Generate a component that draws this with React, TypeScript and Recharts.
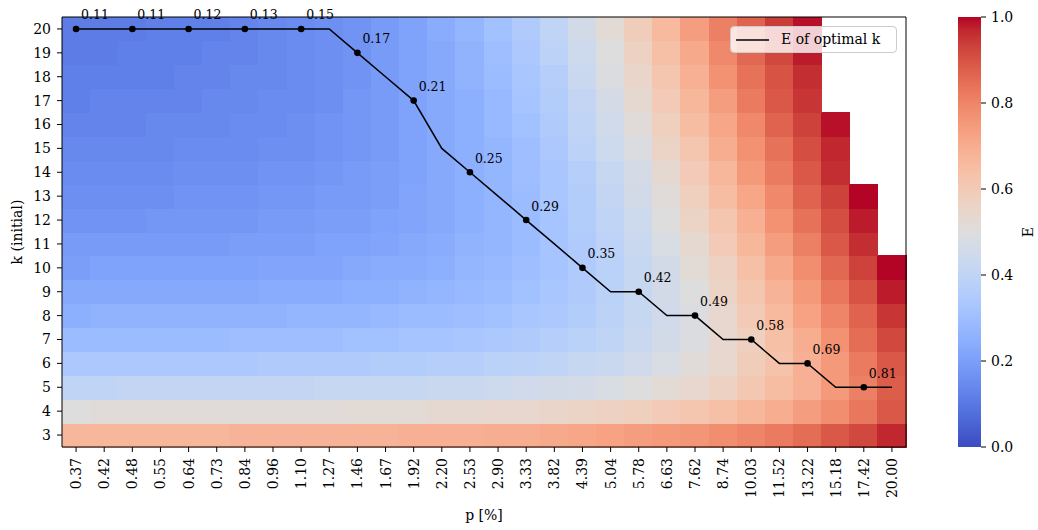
import {
  Bar,
  ComposedChart,
  Label,
  LabelList,
  Line,
  ReferenceArea,
  XAxis,
  YAxis,
} from "recharts";

const FONT = "'DejaVu Serif', serif";

// x categories: p [%]
const P_LABELS = [
  "0.37", "0.42", "0.48", "0.55", "0.64", "0.73", "0.84", "0.96", "1.10", "1.27",
  "1.46", "1.67", "1.92", "2.20", "2.53", "2.90", "3.33", "3.82", "4.39", "5.04",
  "5.78", "6.63", "7.62", "8.74", "10.03", "11.52", "13.22", "15.18", "17.42", "20.00",
];

// y categories: initial k
const K_VALUES = [3, 4, 5, 6, 7, 8, 9, 10, 11, 12, 13, 14, 15, 16, 17, 18, 19, 20];

// E for each k, one value per p column (null = cell left blank)
const E_K20 = [0.11, 0.11, 0.11, 0.12, 0.12, 0.12, 0.13, 0.14, 0.15, 0.16, 0.17, 0.19, 0.21, 0.24, 0.27, 0.31, 0.35, 0.4, 0.46, 0.52, 0.59, 0.66, 0.74, 0.81, 0.87, 0.94, 0.99, null, null, null];
const E_K19 = [0.11, 0.11, 0.12, 0.12, 0.12, 0.13, 0.13, 0.14, 0.15, 0.16, 0.17, 0.19, 0.21, 0.23, 0.26, 0.3, 0.34, 0.39, 0.44, 0.5, 0.57, 0.64, 0.71, 0.79, 0.86, 0.92, 0.98, null, null, null];
const E_K18 = [0.12, 0.12, 0.12, 0.12, 0.13, 0.13, 0.14, 0.14, 0.15, 0.16, 0.17, 0.19, 0.21, 0.23, 0.26, 0.29, 0.33, 0.37, 0.43, 0.49, 0.55, 0.62, 0.69, 0.77, 0.84, 0.9, 0.96, null, null, null];
const E_K17 = [0.12, 0.13, 0.13, 0.13, 0.13, 0.14, 0.14, 0.15, 0.15, 0.16, 0.18, 0.19, 0.21, 0.23, 0.25, 0.28, 0.32, 0.36, 0.41, 0.47, 0.53, 0.6, 0.67, 0.74, 0.82, 0.89, 0.95, null, null, null];
const E_K16 = [0.13, 0.13, 0.13, 0.14, 0.14, 0.14, 0.15, 0.15, 0.16, 0.17, 0.18, 0.19, 0.21, 0.23, 0.25, 0.28, 0.31, 0.35, 0.4, 0.45, 0.51, 0.58, 0.65, 0.72, 0.79, 0.87, 0.93, 0.99, null, null];
const E_K15 = [0.14, 0.14, 0.14, 0.14, 0.15, 0.15, 0.15, 0.16, 0.16, 0.17, 0.18, 0.19, 0.21, 0.23, 0.25, 0.27, 0.3, 0.34, 0.39, 0.44, 0.49, 0.56, 0.62, 0.7, 0.77, 0.84, 0.91, 0.97, null, null];
const E_K14 = [0.15, 0.15, 0.15, 0.15, 0.16, 0.16, 0.16, 0.17, 0.17, 0.18, 0.19, 0.2, 0.21, 0.23, 0.25, 0.27, 0.3, 0.33, 0.37, 0.42, 0.47, 0.53, 0.6, 0.67, 0.75, 0.82, 0.89, 0.96, null, null];
const E_K13 = [0.16, 0.16, 0.16, 0.16, 0.17, 0.17, 0.17, 0.18, 0.18, 0.19, 0.19, 0.2, 0.22, 0.23, 0.25, 0.27, 0.29, 0.33, 0.36, 0.41, 0.46, 0.51, 0.58, 0.65, 0.72, 0.79, 0.87, 0.93, 1.0, null];
const E_K12 = [0.17, 0.17, 0.17, 0.18, 0.18, 0.18, 0.18, 0.19, 0.19, 0.2, 0.2, 0.21, 0.22, 0.23, 0.25, 0.27, 0.29, 0.32, 0.36, 0.4, 0.44, 0.5, 0.56, 0.62, 0.69, 0.77, 0.84, 0.91, 0.98, null];
const E_K11 = [0.19, 0.19, 0.19, 0.19, 0.19, 0.19, 0.2, 0.2, 0.2, 0.21, 0.21, 0.22, 0.23, 0.24, 0.26, 0.27, 0.29, 0.32, 0.35, 0.39, 0.43, 0.48, 0.53, 0.6, 0.67, 0.74, 0.81, 0.89, 0.96, null];
const E_K10 = [0.2, 0.21, 0.21, 0.21, 0.21, 0.21, 0.21, 0.22, 0.22, 0.22, 0.23, 0.24, 0.24, 0.25, 0.27, 0.28, 0.3, 0.32, 0.35, 0.38, 0.42, 0.46, 0.52, 0.57, 0.64, 0.71, 0.78, 0.86, 0.93, 1.0];
const E_K9 = [0.23, 0.23, 0.23, 0.23, 0.23, 0.23, 0.23, 0.24, 0.24, 0.24, 0.25, 0.25, 0.26, 0.27, 0.28, 0.29, 0.31, 0.33, 0.35, 0.38, 0.42, 0.46, 0.5, 0.56, 0.62, 0.68, 0.75, 0.83, 0.9, 0.98];
const E_K8 = [0.25, 0.26, 0.26, 0.26, 0.26, 0.26, 0.26, 0.26, 0.27, 0.27, 0.27, 0.28, 0.29, 0.29, 0.3, 0.31, 0.33, 0.34, 0.36, 0.39, 0.42, 0.45, 0.49, 0.54, 0.6, 0.66, 0.73, 0.8, 0.87, 0.95];
const E_K7 = [0.29, 0.29, 0.29, 0.29, 0.29, 0.29, 0.3, 0.3, 0.3, 0.3, 0.31, 0.31, 0.32, 0.32, 0.33, 0.34, 0.35, 0.37, 0.38, 0.4, 0.43, 0.46, 0.49, 0.54, 0.58, 0.64, 0.7, 0.77, 0.85, 0.92];
const E_K6 = [0.34, 0.34, 0.34, 0.34, 0.34, 0.34, 0.34, 0.35, 0.35, 0.35, 0.35, 0.36, 0.36, 0.37, 0.37, 0.38, 0.39, 0.4, 0.42, 0.43, 0.45, 0.48, 0.51, 0.54, 0.59, 0.63, 0.69, 0.75, 0.82, 0.89];
const E_K5 = [0.4, 0.4, 0.41, 0.41, 0.41, 0.41, 0.41, 0.41, 0.41, 0.42, 0.42, 0.42, 0.42, 0.43, 0.43, 0.44, 0.45, 0.46, 0.47, 0.48, 0.5, 0.52, 0.54, 0.57, 0.61, 0.65, 0.69, 0.75, 0.81, 0.88];
const E_K4 = [0.5, 0.51, 0.51, 0.51, 0.51, 0.51, 0.51, 0.51, 0.51, 0.51, 0.52, 0.52, 0.52, 0.53, 0.53, 0.54, 0.54, 0.55, 0.56, 0.57, 0.58, 0.6, 0.62, 0.64, 0.67, 0.7, 0.74, 0.78, 0.83, 0.89];
const E_K3 = [0.67, 0.67, 0.67, 0.67, 0.67, 0.67, 0.68, 0.68, 0.68, 0.68, 0.68, 0.68, 0.69, 0.69, 0.69, 0.7, 0.7, 0.71, 0.72, 0.73, 0.74, 0.75, 0.76, 0.78, 0.8, 0.82, 0.85, 0.89, 0.92, 0.97];

const E_BY_K: Record<number, (number | null)[]> = {
  3: E_K3, 4: E_K4, 5: E_K5, 6: E_K6, 7: E_K7, 8: E_K8, 9: E_K9, 10: E_K10, 11: E_K11,
  12: E_K12, 13: E_K13, 14: E_K14, 15: E_K15, 16: E_K16, 17: E_K17, 18: E_K18, 19: E_K19, 20: E_K20,
};

// optimal k per p column, and the annotated E values (every other column)
const OPT_K = [20, 20, 20, 20, 20, 20, 20, 20, 20, 20, 19, 18, 17, 15, 14, 13, 12, 11, 10, 9, 9, 8, 8, 7, 7, 6, 6, 5, 5, 5];
const OPT_E = [0.11, null, 0.11, null, 0.12, null, 0.13, null, 0.15, null, 0.17, null, 0.21, null, 0.25, null, 0.29, null, 0.35, null, 0.42, null, 0.49, null, 0.58, null, 0.69, null, 0.81, null];

const COLORBAR_TICKS = [0, 0.2, 0.4, 0.6, 0.8, 1];

// matplotlib "coolwarm" control points
const COOLWARM = [
  [59, 76, 192], [68, 90, 204], [77, 104, 215], [87, 117, 225], [98, 130, 234], [108, 142, 241],
  [119, 154, 247], [130, 165, 251], [141, 176, 254], [152, 185, 255], [163, 194, 255], [174, 201, 253],
  [184, 208, 249], [194, 213, 244], [204, 217, 238], [213, 219, 230], [221, 221, 221], [229, 216, 209],
  [236, 211, 197], [241, 204, 185], [245, 196, 173], [247, 187, 160], [247, 177, 148], [247, 166, 135],
  [244, 154, 123], [241, 141, 111], [236, 127, 99], [229, 112, 88], [222, 96, 77], [213, 80, 66],
  [203, 62, 56], [192, 40, 47], [180, 4, 38],
];

function coolwarm(v: number): string {
  const t = Math.min(1, Math.max(0, v)) * (COOLWARM.length - 1);
  const i = Math.min(COOLWARM.length - 2, Math.floor(t));
  const f = t - i;
  const a = COOLWARM[i];
  const b = COOLWARM[i + 1];
  const c = a.map((ch, j) => Math.round(ch + (b[j] - ch) * f));
  return `rgb(${c[0]},${c[1]},${c[2]})`;
}

function PTick(props: any) {
  const { x, y, payload } = props;
  const ty = y + 4;
  return (
    <text
      x={x}
      y={ty}
      transform={`rotate(-90, ${x}, ${ty})`}
      textAnchor="end"
      dominantBaseline="central"
      fontSize={14}
      fontFamily={FONT}
      fill="#000"
    >
      {P_LABELS[payload.value]}
    </text>
  );
}

function renderDot(props: any) {
  const { cx, cy, payload, index } = props;
  if (payload.e == null) return <g key={`dot-${index}`} />;
  return <circle key={`dot-${index}`} cx={cx} cy={cy} r={3.3} fill="#000" />;
}

function renderOptLabel(props: any) {
  const { x, y, value, index } = props;
  if (value == null) return null;
  return (
    <text
      key={`lab-${index}`}
      x={Number(x) + 5}
      y={Number(y) - 14}
      dominantBaseline="central"
      fontSize={12.5}
      fontFamily={FONT}
      fill="#000"
    >
      {Number(value).toFixed(2)}
    </text>
  );
}

function rotatedAxisTitle(text: string, dx: (vb: any) => number) {
  return (p: any) => {
    const vb = p.viewBox;
    const cx = dx(vb);
    const cy = vb.y + vb.height / 2;
    return (
      <text
        x={cx}
        y={cy}
        transform={`rotate(-90, ${cx}, ${cy})`}
        textAnchor="middle"
        dominantBaseline="central"
        fontSize={14}
        fontFamily={FONT}
        fill="#000"
      >
        {text}
      </text>
    );
  };
}

export default function App() {
  const lineData = OPT_K.map((k, i) => ({ i, k, e: OPT_E[i] }));
  const colorbarData = [{ name: "E", v: 1 }];

  const cells: React.ReactNode[] = [];
  K_VALUES.forEach((k) => {
    E_BY_K[k].forEach((v, i) => {
      if (v == null) return;
      const color = coolwarm(v);
      cells.push(
        <ReferenceArea
          key={`c-${k}-${i}`}
          x1={i - 0.5}
          x2={i + 0.5}
          y1={k - 0.5}
          y2={k + 0.5}
          fill={color}
          fillOpacity={1}
          stroke={color}
          strokeWidth={1}
          shapeRendering="crispEdges"
          ifOverflow="visible"
        />,
      );
    });
  });

  const tickStyle = { fontSize: 14, fontFamily: FONT, fill: "#000" };

  return (
    <div
      style={{
        position: "absolute",
        left: 0,
        top: 0,
        width: 1038,
        height: 530,
        background: "#fff",
        fontFamily: FONT,
      }}
    >
      <div style={{ position: "absolute", left: 0, top: 0 }}>
        <ComposedChart
          width={940}
          height={530}
          data={lineData}
          margin={{ top: 17, right: 34, bottom: 0, left: 0 }}
        >
          <XAxis
            type="number"
            dataKey="i"
            domain={[-0.5, 29.5]}
            ticks={P_LABELS.map((_, i) => i)}
            interval={0}
            height={83}
            tickSize={5}
            tickMargin={2}
            axisLine={false}
            tickLine={{ stroke: "#000" }}
            tick={<PTick />}
            allowDataOverflow
          >
            <Label
              value="p [%]"
              position="insideBottom"
              offset={10}
              style={{ fontSize: 14, fontFamily: FONT, fill: "#000" }}
            />
          </XAxis>
          <YAxis
            type="number"
            domain={[2.5, 20.5]}
            ticks={K_VALUES}
            interval={0}
            width={62}
            tickSize={5}
            tickMargin={6}
            axisLine={false}
            tickLine={{ stroke: "#000" }}
            tick={tickStyle}
            allowDataOverflow
          >
            <Label content={rotatedAxisTitle("k (initial)", (vb) => vb.x + 17)} />
          </YAxis>
          {cells}
          <ReferenceArea
            x1={-0.5}
            x2={29.5}
            y1={2.5}
            y2={20.5}
            fill="none"
            fillOpacity={0}
            stroke="#000"
            strokeWidth={1}
            ifOverflow="visible"
          />
          <Line
            type="linear"
            dataKey="k"
            stroke="#000"
            strokeWidth={1.5}
            dot={renderDot}
            activeDot={false}
            isAnimationActive={false}
          >
            <LabelList dataKey="e" content={renderOptLabel} />
          </Line>
        </ComposedChart>
      </div>

      {/* legend */}
      <div
        style={{
          position: "absolute",
          left: 730,
          top: 26,
          width: 167,
          height: 27,
          background: "rgba(255,255,255,0.8)",
          border: "1px solid #cccccc",
          borderRadius: 4,
          boxSizing: "border-box",
        }}
      >
        <svg width={40} height={27} style={{ position: "absolute", left: 4, top: 0 }}>
          <line x1={1} y1={13} x2={34} y2={13} stroke="#000" strokeWidth={1.5} />
        </svg>
        <span
          style={{
            position: "absolute",
            left: 50,
            top: 4,
            fontSize: 14,
            lineHeight: "17px",
            fontFamily: FONT,
            color: "#000",
            whiteSpace: "nowrap",
          }}
        >
          E of optimal k
        </span>
      </div>

      {/* colorbar */}
      <div style={{ position: "absolute", left: 920, top: 0 }}>
        <ComposedChart
          width={118}
          height={530}
          data={colorbarData}
          barCategoryGap={0}
          margin={{ top: 17, right: 0, bottom: 83, left: 38 }}
        >
          <defs>
            <linearGradient id="cwGrad" x1="0" y1="1" x2="0" y2="0">
              {COOLWARM.map((c, j) => (
                <stop
                  key={j}
                  offset={j / (COOLWARM.length - 1)}
                  stopColor={`rgb(${c[0]},${c[1]},${c[2]})`}
                />
              ))}
            </linearGradient>
          </defs>
          <XAxis type="category" dataKey="name" hide />
          <YAxis
            orientation="right"
            type="number"
            domain={[0, 1]}
            ticks={COLORBAR_TICKS}
            interval={0}
            width={57}
            tickSize={5}
            tickMargin={5}
            axisLine={false}
            tickLine={{ stroke: "#000" }}
            tick={tickStyle}
            tickFormatter={(v: number) => v.toFixed(1)}
          >
            <Label content={rotatedAxisTitle("E", (vb) => vb.x + vb.width - 10)} />
          </YAxis>
          <Bar dataKey="v" fill="url(#cwGrad)" isAnimationActive={false} />
        </ComposedChart>
      </div>
    </div>
  );
}
